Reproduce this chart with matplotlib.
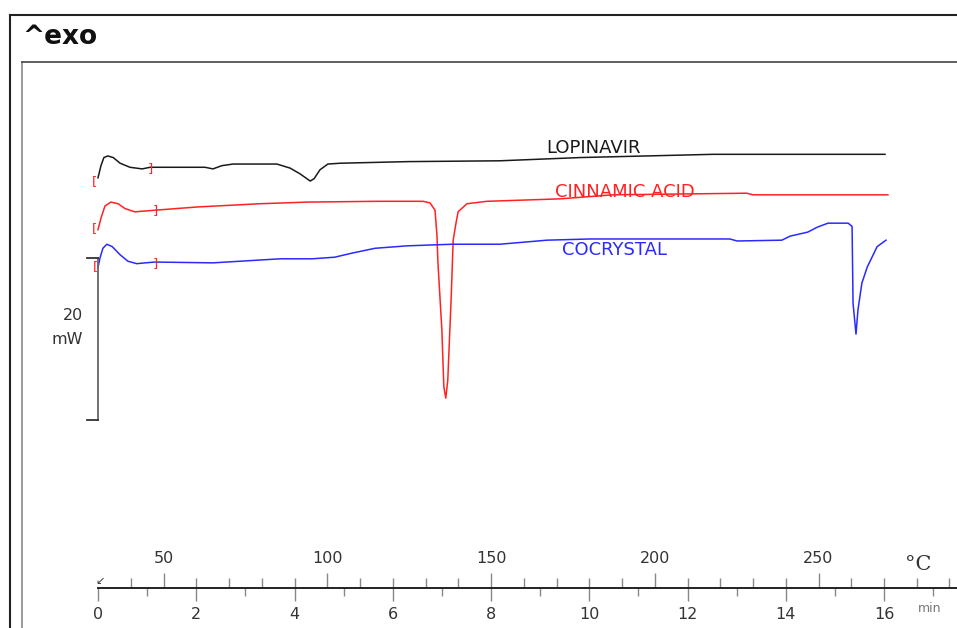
import numpy as np
from matplotlib import pyplot as plt
from matplotlib.lines import Line2D

# DSC traces: time (min) vs heat flow (mW, curves offset)
lopi_t = [0.00, 0.06, 0.12, 0.20, 0.31, 0.45, 0.65, 0.90, 1.06, 1.87, 2.18, 2.34, 2.52, 2.75,
          3.64, 3.91, 4.11, 4.32, 4.40, 4.52, 4.68, 4.93, 6.31, 8.18, 9.81, 11.85, 12.52, 16.02]
lopi_mw = [29.9, 31.4, 32.4, 32.6, 32.4, 31.7, 31.2, 31.0, 31.2, 31.2, 31.2, 31.0, 31.4, 31.6,
           31.6, 31.1, 30.4, 29.5, 29.8, 30.9, 31.6, 31.7, 31.9, 32.0, 32.4, 32.7, 32.8, 32.8]

cinn_t = [0.00, 0.06, 0.14, 0.26, 0.41, 0.55, 0.75, 0.96, 1.16, 2.02, 3.30, 4.25, 5.68, 6.62,
          6.76, 6.86, 6.90, 6.92, 7.00, 7.04, 7.08, 7.12, 7.19, 7.23, 7.29, 7.33, 7.51, 7.92,
          9.40, 10.48, 13.21, 13.33, 16.08]
cinn_mw = [23.5, 24.9, 26.4, 26.9, 26.7, 26.1, 25.7, 25.8, 25.9, 26.3, 26.7, 26.9, 27.0, 27.0,
           26.8, 25.9, 22.8, 19.4, 11.1, 4.1, 2.7, 4.9, 15.2, 22.2, 24.4, 25.7, 26.7, 27.0,
           27.3, 27.8, 28.0, 27.8, 27.8]

cocr_t = [0.00, 0.04, 0.10, 0.18, 0.29, 0.45, 0.61, 0.79, 0.96, 1.16, 2.34, 3.71, 4.36, 4.82,
          5.17, 5.64, 6.29, 7.21, 8.18, 9.14, 10.02, 12.86, 13.01, 13.92, 14.09, 14.45, 14.64,
          14.86, 15.27, 15.35, 15.37, 15.43, 15.47, 15.55, 15.66, 15.86, 16.04]
cocr_mw = [18.8, 20.0, 21.2, 21.7, 21.4, 20.4, 19.6, 19.3, 19.4, 19.5, 19.4, 19.9, 19.9, 20.1,
           20.6, 21.2, 21.5, 21.7, 21.7, 22.2, 22.35, 22.35, 22.1, 22.2, 22.7, 23.2, 23.8,
           24.3, 24.3, 23.9, 14.4, 10.6, 13.6, 16.9, 18.9, 21.4, 22.2]

names = ['LOPINAVIR', 'CINNAMIC ACID', 'COCRYSTAL']
colors = ['#1a1a1a', '#ff2222', '#2a2aff']
label_t = [10.08, 10.73, 10.52]
label_mw = [33.6, 28.15, 21.0]

# integration limit markers [ ]
mark_t = [[-0.08, 1.06], [-0.08, 1.16], [-0.06, 1.16]]
mark_mw = [[29.4, 31.1], [23.6, 25.8], [19.0, 19.3]]

scale_mw = 20
T0, RATE = 30, 15          # start temperature, heating rate K/min
time_ticks = np.arange(0, 17, 2)
temp_ticks = [50, 100, 150, 200, 250]

W, H = 957, 628
fig = plt.figure(figsize=(W / 100, H / 100), dpi=100)

# pixel mapping: t=0 -> x 98, 49.125 px/min ; 0 mW -> y 420, 8.1 px/mW
xl = (-98 / 49.125, (W - 98) / 49.125)
yl = ((420 - H) / 8.1, 420 / 8.1)

ax = fig.add_axes([0, 0, 1, 1])
ax.set_xlim(*xl)
ax.set_ylim(*yl)
ax.axis('off')

curves = [(lopi_t, lopi_mw), (cinn_t, cinn_mw), (cocr_t, cocr_mw)]
for (t, m), c, nm, lt, lm, mt, mm in zip(curves, colors, names, label_t, label_mw, mark_t, mark_mw):
    ax.plot(t, m, color=c, lw=1.1)
    ax.text(lt, lm, nm, color=c, fontsize=13, ha='center', va='center')
    ax.text(mt[0], mm[0], '[', color='#ff2222', fontsize=9.5, ha='center', va='center')
    ax.text(mt[1], mm[1], ']', color='#ff2222', fontsize=9.5, ha='center', va='center')

# 20 mW scale bar
ax.plot([0, 0], [0, scale_mw], color='#666666', lw=1.3)
ax.plot([-0.22, 0], [0, 0], color='#333333', lw=1.3)
ax.plot([-0.22, 0], [scale_mw, scale_mw], color='#333333', lw=1.3)
ax.text(-0.3, 12.96, '20', ha='right', va='center', fontsize=11.5, color='#333333')
ax.text(-0.3, 9.88, 'mW', ha='right', va='center', fontsize=11.5, color='#333333')

# time / temperature axis
tax = fig.add_axes([0, (H - 588) / H, 1, 1e-6])
tax.set_xlim(*xl)
tax.set_yticks([])
for s in ['left', 'right', 'top']:
    tax.spines[s].set_visible(False)
tax.spines['bottom'].set_bounds(0, xl[1])
tax.spines['bottom'].set_color('#222222')
tax.spines['bottom'].set_linewidth(1.4)
tax.set_xticks(time_ticks)
tax.set_xticks(np.arange(1, 18, 2), minor=True)
tax.tick_params(axis='x', which='major', length=9, width=1, color='#888888',
                labelsize=11.5, labelcolor='#333333', pad=5)
tax.tick_params(axis='x', which='minor', length=6, width=1, color='#888888')

sec = tax.secondary_xaxis('top', functions=(lambda t: T0 + RATE * t, lambda T: (T - T0) / RATE))
sec.spines['top'].set_visible(False)
sec.set_xticks(temp_ticks)
sec.set_xticks([T for T in range(40, 300, 10) if T % 50], minor=True)
sec.tick_params(axis='x', which='major', length=11, width=1, color='#888888',
                labelsize=11.5, labelcolor='#333333', pad=5)
sec.tick_params(axis='x', which='minor', length=7, width=1, color='#888888')

fig.text(918 / W, 1 - 565 / H, '°C', fontsize=15, family='DejaVu Serif', color='#333333',
         ha='center', va='center')
fig.text(930 / W, 1 - 608 / H, 'min', fontsize=9, color='#777777', ha='center', va='center')
fig.text(100 / W, 1 - 581 / H, '↙', fontsize=8, color='#333333', ha='center', va='center')

# frames
fig.add_artist(Line2D([10 / W, 10 / W], [0, 1 - 15 / H], color='#222222', lw=1.5))
fig.add_artist(Line2D([10 / W, 1], [1 - 15 / H, 1 - 15 / H], color='#222222', lw=1.5))
fig.add_artist(Line2D([22 / W, 22 / W], [0, 1 - 62 / H], color='#888888', lw=1.2))
fig.add_artist(Line2D([22 / W, 1], [1 - 62 / H, 1 - 62 / H], color='#444444', lw=1.2))
fig.text(22 / W, 1 - 37 / H, '^exo', fontsize=19, fontweight='bold', color='#111111',
         ha='left', va='center')

fig.savefig('out.png', dpi=100)
